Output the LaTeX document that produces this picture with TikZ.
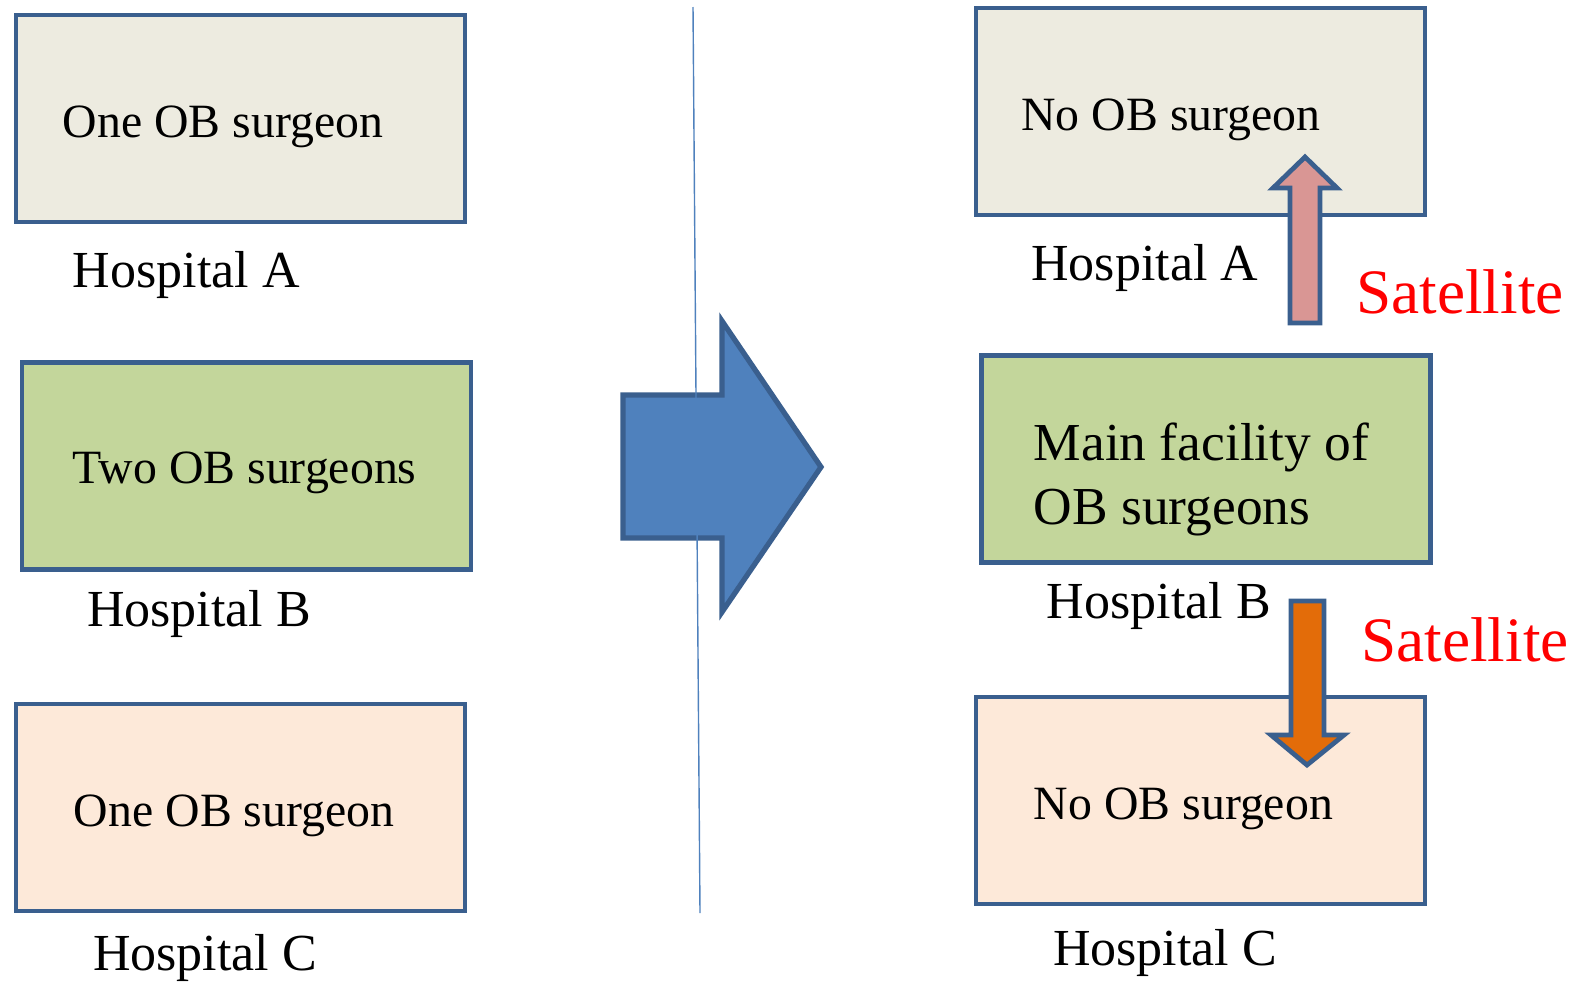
\documentclass[tikz,border=0pt]{standalone}
\usepackage{fontspec}
\setmainfont{Liberation Serif}
\definecolor{edgeblue}{HTML}{3A5F8E}
\definecolor{fillblue}{HTML}{4F81BD}
\definecolor{boxgrey}{HTML}{EDEBE0}
\definecolor{boxgreen}{HTML}{C3D69B}
\definecolor{boxpeach}{HTML}{FDE9D9}
\definecolor{satpink}{HTML}{D99694}
\definecolor{satorange}{HTML}{E36C09}
\tikzset{
  hospbox/.style={draw=edgeblue, line width=2.7pt, minimum width=8.98cm,
    minimum height=4.14cm, inner sep=0pt},
  boxtext/.style={inner sep=0pt, anchor=base west, font=\fontsize{27.2}{32}\selectfont},
  hosplabel/.style={inner sep=0pt, anchor=base west, font=\fontsize{29.6}{34}\selectfont},
  maintext/.style={inner sep=0pt, anchor=base west, font=\fontsize{30.4}{36.3}\selectfont},
  satlabel/.style={inner sep=0pt, anchor=base west, text=red, font=\fontsize{36}{40}\selectfont},
  blockarrow/.style={draw=edgeblue, line width=2.7pt, line join=miter}
}
\begin{document}
\begin{tikzpicture}[x=0.02cm, y=-0.02cm]
    \useasboundingbox (0,0) rectangle (1581,981);
    % before: three hospitals
    \begin{scope}
      \node[hospbox, fill=boxgrey]  (leftA) at (240.5,118.5) {};
      \node[hospbox, fill=boxgreen] (leftB) at (246.5,466) {};
      \node[hospbox, fill=boxpeach] (leftC) at (240.5,807.5) {};
      \node[boxtext] (leftAtext) at (62.5,137) {One OB surgeon};
      \node[boxtext] (leftBtext) at (72.6,483) {Two OB surgeons};
      \node[boxtext] (leftCtext) at (73.6,826) {One OB surgeon};
      \node[hosplabel] (leftAname) at (72.6,287) {Hospital A};
      \node[hosplabel] (leftBname) at (86.7,626) {Hospital B};
      \node[hosplabel] (leftCname) at (92.8,970) {Hospital C};
    \end{scope}
    % big arrow and divider
    \draw[blockarrow, fill=fillblue, line width=3pt]
      (623,395) -- (722,395) -- (722,321) -- (821,467) -- (722,612) -- (722,538) -- (623,538) -- cycle;
    \draw[fillblue, line width=0.8pt] (693,7) -- (700,913);
    % after: main facility with satellites
    \begin{scope}
      \node[hospbox, fill=boxgrey]  (rightA) at (1200.5,111.5) {};
      \node[hospbox, fill=boxgreen] (rightB) at (1206,459) {};
      \node[hospbox, fill=boxpeach] (rightC) at (1200.5,800.5) {};
      \node[boxtext] (rightAtext) at (1021,130) {No OB surgeon};
      \node[maintext, align=left] (rightBtext) at (1033.5,524) {Main facility of\\OB surgeons};
      \node[boxtext] (rightCtext) at (1033.5,819) {No OB surgeon};
      \node[hosplabel] (rightAname) at (1031,280) {Hospital A};
      \node[hosplabel] (rightBname) at (1046.6,618) {Hospital B};
      \node[hosplabel] (rightCname) at (1052.7,965) {Hospital C};
      \draw[blockarrow, fill=satpink]
        (1290,323) -- (1290,188) -- (1273,188) -- (1305,157) -- (1337,188) -- (1320,188) -- (1320,323) -- cycle;
      \draw[blockarrow, fill=satorange]
        (1291,601) -- (1324,601) -- (1324,735) -- (1344,735) -- (1307,765) -- (1271,735) -- (1291,735) -- cycle;
      \node[satlabel] (satup) at (1356,313) {Satellite};
      \node[satlabel] (satdown) at (1361,661) {Satellite};
    \end{scope}
  \end{tikzpicture}
\end{document}
